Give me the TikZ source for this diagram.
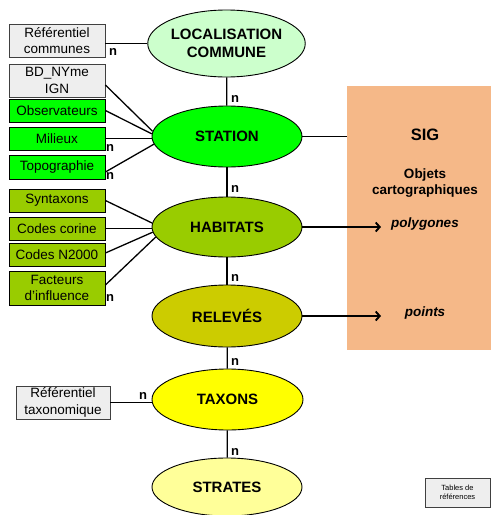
\documentclass[tikz,border=0pt]{standalone}
\usepackage{fontspec}
\setmainfont{Liberation Sans}
\usetikzlibrary{shapes.geometric,arrows.meta,calc}
\definecolor{locc}{HTML}{CCFFCC}
\definecolor{stac}{HTML}{00FF00}
\definecolor{habc}{HTML}{99CC00}
\definecolor{relc}{HTML}{CCCC00}
\definecolor{taxc}{HTML}{FFFF00}
\definecolor{strc}{HTML}{FFFF99}
\definecolor{greyc}{HTML}{EEEEEE}
\definecolor{sigc}{HTML}{F5B888}
\tikzset{
  ent/.style={ellipse, draw=black, line width=0.9pt, inner sep=0pt, align=center,
     font=\fontsize{15}{18}\selectfont\bfseries},
  tbox/.style={rectangle, draw=black, line width=0.8pt, inner sep=0pt, align=center,
     minimum width=96pt, font=\fontsize{13.5}{16.5}\selectfont},
  refbox/.style={tbox, fill=greyc, draw=black!75},
  grbox/.style={tbox, fill=stac},
  olbox/.style={tbox, fill=habc},
  link/.style={line width=1.3pt},
  arr/.style={line width=1.9pt, -{Straight Barb[length=4pt,width=9pt,line width=1.9pt]}},
  nlab/.style={font=\fontsize{13}{13}\selectfont\bfseries, inner sep=0pt},
  sigtxt/.style={font=\fontsize{13.5}{16}\selectfont\bfseries, align=center, inner sep=0pt}
}
\begin{document}
\begin{tikzpicture}[x=1pt,y=-1pt]
\clip (0,0) rectangle (491,515);
\fill[white] (0,0) rectangle (491,515);

% SIG area
\node[rectangle, fill=sigc, minimum width=144pt, minimum height=264pt, inner sep=0pt] (sig) at (419,218) {};
\node[sigtxt, font=\fontsize{16.5}{18}\selectfont\bfseries] (sigt) at (425,135) {SIG};
\node[sigtxt] (obj) at (425,183) {Objets\\cartographiques};
\node[sigtxt, font=\fontsize{13.5}{16}\selectfont\bfseries\itshape] (poly) at (425,224) {polygones};
\node[sigtxt, font=\fontsize{13.5}{16}\selectfont\bfseries\itshape] (pts) at (425,313) {points};

% entities
\node[ent, fill=locc, minimum width=145pt, minimum height=67pt] (loc) at (226.5,43.5) {LOCALISATION\\COMMUNE};
\node[ent, fill=stac, minimum width=150pt, minimum height=61pt] (sta) at (227,136.5) {STATION};
\node[ent, fill=habc, minimum width=150pt, minimum height=60pt] (hab) at (227,227) {HABITATS};
\node[ent, fill=relc, minimum width=150pt, minimum height=62pt] (rel) at (227,316) {RELEVÉS};
\node[ent, fill=taxc, minimum width=151pt, minimum height=61pt] (tax) at (227.5,399.5) {TAXONS};
\node[ent, fill=strc, minimum width=150pt, minimum height=58pt] (str) at (227,487) {STRATES};

% left boxes
\node[refbox, minimum height=33pt] (rc) at (57,40.5) {Référentiel\\communes};
\node[refbox, minimum height=33pt] (bd) at (57,80.5) {BD\_NYme\\IGN};
\node[grbox, minimum height=23pt] (obs) at (57,110.5) {Observateurs};
\node[grbox, minimum height=23pt] (mil) at (57,138.5) {Milieux};
\node[grbox, minimum height=24pt] (topo) at (57,167) {Topographie};
\node[olbox, minimum height=23pt] (syn) at (57,200.5) {Syntaxons};
\node[olbox, minimum height=23pt] (cor) at (57,228.5) {Codes corine};
\node[olbox, minimum height=23pt] (n2k) at (57,254.5) {Codes N2000};
\node[olbox, minimum height=34pt] (fac) at (57,288) {Facteurs\\d’influence};
\node[refbox, minimum width=94pt, minimum height=33pt] (rt) at (63,402.5) {Référentiel\\taxonomique};
\node[refbox, minimum width=65pt, minimum height=29pt, font=\fontsize{7.5}{9}\selectfont] (tab) at (457.5,492.5) {Tables de\\références};

% connectors
\draw[link] (loc.west) -- (loc.west -| rc.east);
\draw[link] ($(bd.east)+(0,4.5)$) -- (sta.176);
\draw[link] (obs.east) -- (sta.178);
\draw[link] (mil.east) -- (mil.east -| sta.west);
\draw[link] ($(topo.east)+(0,5)$) -- (sta.186);
\draw[link] (syn.east) -- (hab.177);
\draw[link] (cor.east) -- (cor.east -| hab.west);
\draw[link] ($(n2k.east)+(0,-1.5)$) -- (hab.184);
\draw[link] ($(fac.east)+(0,-3)$) -- (hab.188);
\draw[link] (rt.east) -- (rt.east -| tax.west);

\draw[link] (loc) -- (sta);
\draw[link] (sta) -- (hab);
\draw[link] (hab) -- (rel);
\draw[link] (rel) -- (tax);
\draw[link] (tax) -- (str);

\draw[link] (sta.east) -- (sta.east -| sig.west);
\coordinate (pa) at (381,227);
\coordinate (pb) at (381,316);
\draw[arr] (hab.east) -- (pa);
\draw[arr] (rel.east) -- (pb);

% cardinalities
\node[nlab] (n1) at (113,52) {n};
\node[nlab] (n2) at (235,99) {n};
\node[nlab] (n3) at (110,147.5) {n};
\node[nlab] (n4) at (110,176) {n};
\node[nlab] (n5) at (235,189) {n};
\node[nlab] (n6) at (235,278) {n};
\node[nlab] (n7) at (110,298) {n};
\node[nlab] (n8) at (235,362) {n};
\node[nlab] (n9) at (143,396) {n};
\node[nlab] (n10) at (235,452) {n};
\end{tikzpicture}
\end{document}
